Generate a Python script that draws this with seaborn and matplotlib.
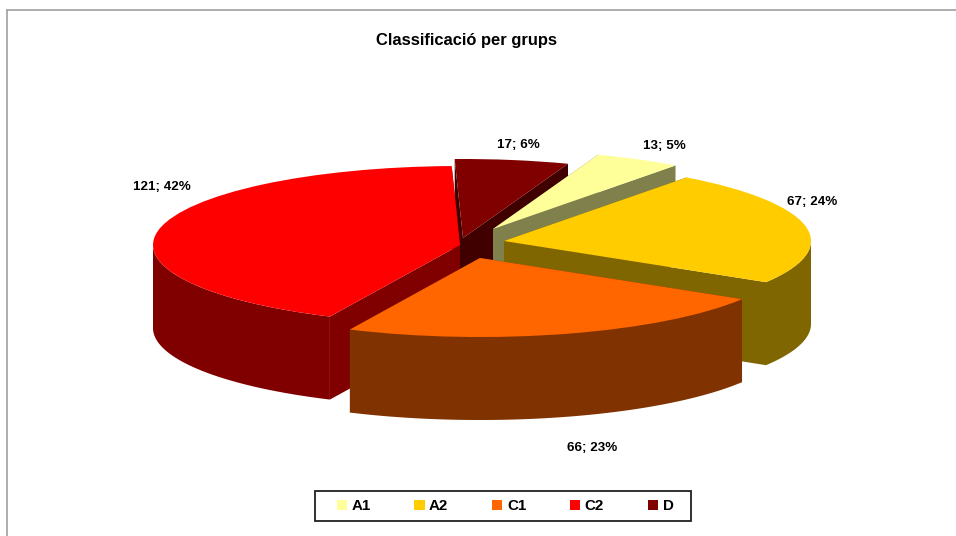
import numpy as np
import matplotlib
matplotlib.use("Agg")
import matplotlib.pyplot as plt
from matplotlib.lines import Line2D
from matplotlib.patches import Polygon, Rectangle
import seaborn as sns

title = "Classificació per grups"
categories = ["A1", "A2", "C1", "C2", "D"]
values = [13, 67, 66, 121, 17]
percents = [5, 24, 23, 42, 6]
colors = ["#FFFF99", "#FFCC00", "#FF6600", "#FF0000", "#800000"]

W, H = 956, 536
RX, RY, DEPTH = 307.0, 79.0, 83.0
START_CW_FROM_TOP = 20.0
centers_px = [(493, 229), (504, 241), (480, 258), (460, 245), (463, 238)]
label_px = [(664, 146), (812, 202), (592, 448), (162, 187), (518, 145)]
draw_order = [4, 0, 1, 3, 2]

sns.set_theme(style="white")
plt.rcParams["font.family"] = ["Liberation Sans", "DejaVu Sans"]
palette = sns.color_palette(colors)
side_colors = [tuple(c * 0.5 for c in col) for col in palette]

fig = plt.figure(figsize=(W / 100, H / 100), dpi=100, facecolor="white")
ax = fig.add_axes([0, 0, 1, 1])

wedges, _ = ax.pie(values, colors=palette, startangle=90 - START_CW_FROM_TOP,
                   counterclock=False, radius=1, center=(0, 0),
                   wedgeprops=dict(linewidth=0))
ax.set_aspect("auto")
ax.set_xlim(0, W / RX)
ax.set_ylim(-H / RY, 0)
ax.set_axis_off()

dz = DEPTH / RY
for rank, i in enumerate(draw_order):
    w = wedges[i]
    cx, cy = centers_px[i][0] / RX, -centers_px[i][1] / RY
    w.set_center((cx, cy))
    w.set_zorder(10 + 2 * rank + 1)
    t = np.radians(np.linspace(w.theta1, w.theta2, 1500))
    arc_x, arc_y = cx + np.cos(t), cy + np.sin(t)
    # outer curved wall: only the part of the rim that faces the viewer
    front = np.sin(t) <= 0
    if front.any():
        fx, fy = arc_x[front], arc_y[front]
        wall = np.column_stack([np.r_[fx, fx[::-1]], np.r_[fy, fy[::-1] - dz]])
        ax.add_patch(Polygon(wall, closed=True, fc=side_colors[i], ec="none", zorder=10 + 2 * rank))
    # the two radial cut faces
    for k in (0, -1):
        face = [(cx, cy), (arc_x[k], arc_y[k]), (arc_x[k], arc_y[k] - dz), (cx, cy - dz)]
        ax.add_patch(Polygon(face, closed=True, fc=side_colors[i], ec="none", zorder=10 + 2 * rank))

for v, p, (lx, ly) in zip(values, percents, label_px):
    fig.text(lx / W, 1 - ly / H, f"{v}; {p}%", ha="center", va="center",
             fontsize=9.6, fontweight="bold", color="black")

fig.text(467 / W, 1 - 40 / H, title, ha="center", va="center",
         fontsize=11.9, fontweight="bold", color="black")

ax.add_patch(Rectangle((315 / W, 1 - 521 / H), 376 / W, 30 / H, transform=fig.transFigure,
                       fc="white", ec="#202020", lw=1.3, zorder=49, clip_on=False))
leg = ax.legend(wedges, categories, ncol=5, loc="center",
                bbox_to_anchor=(505 / W, 1 - 506 / H), bbox_transform=fig.transFigure,
                frameon=False, borderpad=0, borderaxespad=0, handlelength=0.67,
                handleheight=0.67, handletextpad=0.3, columnspacing=2.9,
                labelcolor="black", prop=dict(size=10.9, weight="bold"))
leg.set_zorder(50)

border = "#A0A0A0"
fig.add_artist(Line2D([7 / W, 1], [1 - 10 / H, 1 - 10 / H], color=border, lw=1.2))
fig.add_artist(Line2D([7 / W, 7 / W], [1 - 10 / H, 0], color=border, lw=1.2))

fig.savefig("out.png", dpi=100, facecolor="white")
